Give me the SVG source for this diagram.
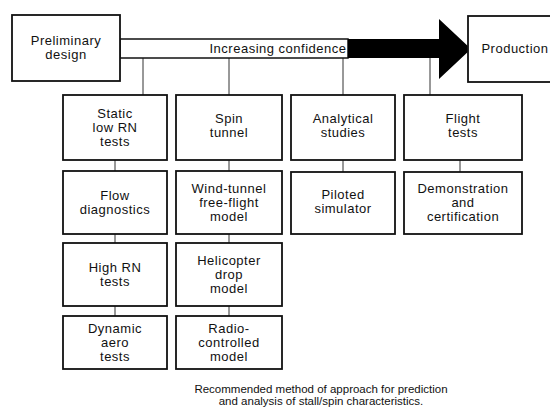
<svg xmlns="http://www.w3.org/2000/svg" width="550" height="417" viewBox="0 0 550 417">
<style>
.box{fill:#fff;stroke:#111;stroke-width:1.8}
.t{font-family:"Liberation Sans",Arial,sans-serif;font-size:13px;letter-spacing:0.5px;fill:#111;text-anchor:middle}
.c{stroke:#333;stroke-width:1;fill:none}
.cap{font-family:"Liberation Sans",Arial,sans-serif;font-size:11.5px;fill:#111;text-anchor:middle}
</style>
<rect width="550" height="417" fill="#fff"/>
<g id="connectors">
<line class="c" x1="143" y1="58" x2="143" y2="95"/>
<line class="c" x1="229" y1="58" x2="229" y2="95"/>
<line class="c" x1="343" y1="58" x2="343" y2="95"/>
<line class="c" x1="430" y1="58" x2="430" y2="95"/>
<line class="c" x1="115" y1="160" x2="115" y2="171"/>
<line class="c" x1="115" y1="234" x2="115" y2="243"/>
<line class="c" x1="115" y1="306" x2="115" y2="316"/>
<line class="c" x1="229" y1="160" x2="229" y2="171"/>
<line class="c" x1="229" y1="234" x2="229" y2="243"/>
<line class="c" x1="229" y1="306" x2="229" y2="316"/>
<line class="c" x1="343" y1="160" x2="343" y2="172"/>
<line class="c" x1="460" y1="160" x2="460" y2="172"/>
</g>
<g id="arrow">
<rect x="120" y="39" width="228" height="19" fill="#fff" stroke="#111" stroke-width="1.5"/>
<polygon points="348,39 439,39 439,19 471,49 439,79 439,58 348,58" fill="#000"/>
<text class="t" x="278" y="53">Increasing confidence</text>
</g>
<g id="prelim"><rect class="box" x="12" y="15" width="108" height="66"/><text class="t" x="66" y="45">Preliminary</text><text class="t" x="66" y="59">design</text></g>
<g id="production"><rect class="box" x="468" y="16" width="84" height="66"/><text class="t" x="515" y="53">Production</text></g>
<g id="static"><rect class="box" x="63" y="95" width="104" height="65"/><text class="t" x="115" y="118">Static</text><text class="t" x="115" y="132">low RN</text><text class="t" x="115" y="146">tests</text></g>
<g id="flow"><rect class="box" x="63" y="171" width="104" height="63"/><text class="t" x="115" y="200">Flow</text><text class="t" x="115" y="214">diagnostics</text></g>
<g id="highrn"><rect class="box" x="63" y="243" width="104" height="63"/><text class="t" x="115" y="272">High RN</text><text class="t" x="115" y="286">tests</text></g>
<g id="dynamic"><rect class="box" x="63" y="316" width="104" height="53"/><text class="t" x="115" y="333">Dynamic</text><text class="t" x="115" y="347">aero</text><text class="t" x="115" y="361">tests</text></g>
<g id="spin"><rect class="box" x="176" y="95" width="106" height="65"/><text class="t" x="229" y="123">Spin</text><text class="t" x="229" y="137">tunnel</text></g>
<g id="windtunnel"><rect class="box" x="176" y="171" width="106" height="63"/><text class="t" x="229" y="193">Wind-tunnel</text><text class="t" x="229" y="207">free-flight</text><text class="t" x="229" y="221">model</text></g>
<g id="helicopter"><rect class="box" x="176" y="243" width="106" height="63"/><text class="t" x="229" y="265">Helicopter</text><text class="t" x="229" y="279">drop</text><text class="t" x="229" y="293">model</text></g>
<g id="radio"><rect class="box" x="176" y="316" width="106" height="53"/><text class="t" x="229" y="333">Radio-</text><text class="t" x="229" y="347">controlled</text><text class="t" x="229" y="361">model</text></g>
<g id="analytical"><rect class="box" x="291" y="95" width="104" height="65"/><text class="t" x="343" y="123">Analytical</text><text class="t" x="343" y="137">studies</text></g>
<g id="piloted"><rect class="box" x="291" y="172" width="104" height="62"/><text class="t" x="343" y="199">Piloted</text><text class="t" x="343" y="213">simulator</text></g>
<g id="flight"><rect class="box" x="404" y="95" width="118" height="65"/><text class="t" x="463" y="123">Flight</text><text class="t" x="463" y="137">tests</text></g>
<g id="demo"><rect class="box" x="404" y="172" width="118" height="62"/><text class="t" x="463" y="193">Demonstration</text><text class="t" x="463" y="207">and</text><text class="t" x="463" y="221">certification</text></g>
<g id="caption"><text class="cap" x="321" y="393">Recommended method of approach for prediction</text><text class="cap" x="321" y="405">and analysis of stall/spin characteristics.</text></g>
</svg>
